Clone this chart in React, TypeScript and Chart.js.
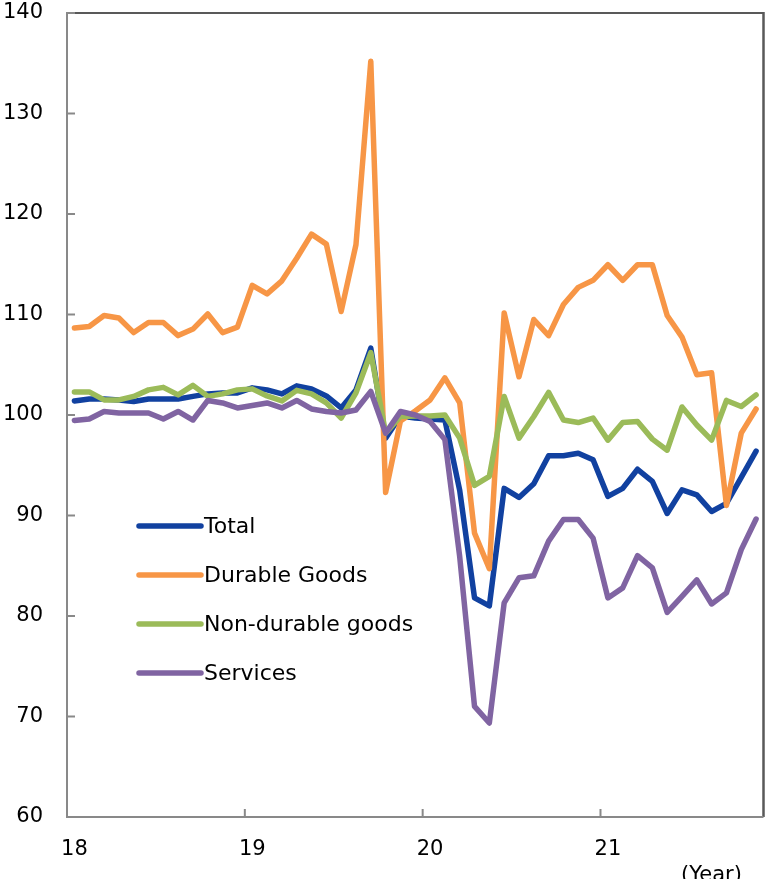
import { useEffect, useRef } from 'react';
import { Chart, registerables } from 'chart.js';

Chart.register(...registerables);

const months = [
  '2018/01', '2018/02', '2018/03', '2018/04', '2018/05', '2018/06', '2018/07', '2018/08', '2018/09', '2018/10', '2018/11', '2018/12',
  '2019/01', '2019/02', '2019/03', '2019/04', '2019/05', '2019/06', '2019/07', '2019/08', '2019/09', '2019/10', '2019/11', '2019/12',
  '2020/01', '2020/02', '2020/03', '2020/04', '2020/05', '2020/06', '2020/07', '2020/08', '2020/09', '2020/10', '2020/11', '2020/12',
  '2021/01', '2021/02', '2021/03', '2021/04', '2021/05', '2021/06', '2021/07', '2021/08', '2021/09', '2021/10', '2021/11',
];

const seriesNames = ['Total', 'Durable Goods', 'Non-durable goods', 'Services'];
const seriesColors = ['#1141A0', '#F79646', '#9BBB59', '#8064A2'];

const total = [
  101.4, 101.6, 101.6, 101.5, 101.35, 101.6, 101.6, 101.6, 101.85, 102.1,
  102.2, 102.2, 102.7, 102.5, 102.1, 102.9, 102.6, 101.9, 100.7, 102.5,
  106.65, 97.7, 99.9, 99.7, 99.6, 99.5, 92.5, 81.8, 81.0, 92.7,
  91.8, 93.15, 95.95, 95.95, 96.2, 95.55, 91.9, 92.7, 94.6, 93.4,
  90.2, 92.55, 92.05, 90.4, 91.2, 93.8, 96.4,
];

const durableGoods = [
  108.66, 108.8, 109.9, 109.65, 108.2, 109.2, 109.2, 107.9, 108.55, 110.05,
  108.2, 108.75, 112.9, 112.05, 113.35, 115.6, 118.0, 117.0, 110.3, 116.95,
  135.2, 92.3, 99.4, 100.4, 101.5, 103.7, 101.2, 88.25, 84.7, 110.15,
  103.8, 109.5, 107.9, 111.0, 112.7, 113.4, 114.95, 113.4, 114.95, 114.95,
  109.9, 107.75, 104.0, 104.2, 91.0, 98.2, 100.6,
];

const nonDurableGoods = [
  102.3, 102.3, 101.5, 101.5, 101.85, 102.5, 102.75, 102.0, 102.95, 101.85,
  102.1, 102.5, 102.6, 101.9, 101.4, 102.45, 102.1, 101.2, 99.7, 102.2,
  106.2, 98.2, 99.85, 99.9, 99.9, 100.0, 97.7, 93.0, 93.9, 101.85,
  97.7, 99.85, 102.25, 99.5, 99.25, 99.7, 97.5, 99.25, 99.35, 97.6,
  96.5, 100.8, 99.0, 97.5, 101.45, 100.85, 102.0,
];

const services = [
  99.45, 99.6, 100.35, 100.2, 100.2, 100.2, 99.6, 100.35, 99.5, 101.45,
  101.2, 100.7, 100.95, 101.2, 100.7, 101.45, 100.6, 100.35, 100.2, 100.5,
  102.35, 98.2, 100.35, 100.0, 99.35, 97.55, 85.9, 71.0, 69.35, 81.3,
  83.8, 84.0, 87.45, 89.6, 89.6, 87.75, 81.8, 82.8, 86.0, 84.8,
  80.35, 81.95, 83.6, 81.2, 82.3, 86.6, 89.65,
];

const seriesValues = [total, durableGoods, nonDurableGoods, services];
const yMin = 60;
const yMax = 140;
const yStep = 10;
const xUnitLabel = '(Year)';

const FONT = '"DejaVu Sans", Verdana, sans-serif';

const zeroPadding = (s: any) => {
  s.paddingTop = 0;
  s.paddingBottom = 0;
  s.paddingLeft = 0;
  s.paddingRight = 0;
};

const framePlugin = {
  id: 'frame',
  beforeDatasetsDraw(chart: any) {
    const { ctx, chartArea: a, scales } = chart;
    const ln = (x1: number, y1: number, x2: number, y2: number) => {
      ctx.beginPath();
      ctx.moveTo(x1, y1);
      ctx.lineTo(x2, y2);
      ctx.stroke();
    };
    ctx.save();
    ctx.lineCap = 'butt';
    // top & right border (dark)
    ctx.strokeStyle = '#595959';
    ctx.lineWidth = 2;
    ln(a.left, a.top, a.right, a.top);
    ctx.lineWidth = 2.5;
    ln(a.right, a.top - 1, a.right, a.bottom);
    // left & bottom axes (gray)
    ctx.strokeStyle = '#898989';
    ctx.lineWidth = 2;
    ln(a.left, a.top - 1, a.left, a.bottom + 1);
    ln(a.left - 1, a.bottom, a.right, a.bottom);
    // y tick marks (inside)
    const ys = scales.y;
    ys.ticks.forEach((t: any) => {
      const py = ys.getPixelForValue(t.value);
      ln(a.left, py, a.left + 8, py);
    });
    // x tick marks between years (inside)
    const xs = scales.x;
    months.forEach((m, i) => {
      if (i > 0 && m.endsWith('/01')) {
        const px = (xs.getPixelForValue(i - 1) + xs.getPixelForValue(i)) / 2;
        ln(px, a.bottom, px, a.bottom - 8);
      }
    });
    ctx.restore();
  },
  afterDatasetsDraw(chart: any) {
    const { ctx, chartArea: a } = chart;
    ctx.save();
    const x0 = a.left + 72;
    const lineLen = 62;
    chart.data.datasets.forEach((ds: any, i: number) => {
      const y = a.top + 513 + i * 49;
      ctx.strokeStyle = ds.borderColor;
      ctx.lineWidth = 5.5;
      ctx.lineCap = 'round';
      ctx.beginPath();
      ctx.moveTo(x0, y);
      ctx.lineTo(x0 + lineLen, y);
      ctx.stroke();
      ctx.fillStyle = '#000';
      ctx.font = `22px ${FONT}`;
      ctx.textAlign = 'left';
      ctx.textBaseline = 'middle';
      ctx.fillText(ds.label, x0 + lineLen + 3, y + 1);
    });
    ctx.font = `21px ${FONT}`;
    ctx.textAlign = 'center';
    ctx.textBaseline = 'alphabetic';
    ctx.fillStyle = '#000';
    ctx.fillText(xUnitLabel, a.right - 52, chart.height + 2);
    ctx.restore();
  },
};

export default function App() {
  const ref = useRef<HTMLCanvasElement | null>(null);
  useEffect(() => {
    if (!ref.current) return;
    const chart = new Chart(ref.current, {
      type: 'line',
      data: {
        labels: months,
        datasets: seriesNames.map((name, i) => ({
          label: name,
          data: seriesValues[i],
          borderColor: seriesColors[i],
          backgroundColor: seriesColors[i],
          borderWidth: 5.5,
          pointRadius: 0,
          pointHoverRadius: 0,
          tension: 0,
          fill: false,
          borderJoinStyle: 'round',
          borderCapStyle: 'round',
          order: seriesNames.length - i,
        })),
      },
      options: {
        responsive: false,
        animation: false,
        devicePixelRatio: 1,
        layout: { padding: { top: 13, right: 1.5, left: 0, bottom: 0 } },
        plugins: {
          legend: { display: false },
          tooltip: { enabled: false },
        },
        scales: {
          x: {
            type: 'category',
            offset: true,
            grid: { display: false, drawTicks: false },
            border: { display: false },
            ticks: {
              autoSkip: false,
              maxRotation: 0,
              minRotation: 0,
              padding: 20,
              color: '#000',
              font: { family: FONT, size: 21 },
              callback: (_v: any, i: number) => (months[i].endsWith('/01') ? months[i].slice(2, 4) : ''),
            },
            afterFit: (s: any) => {
              s.height = 62;
              zeroPadding(s);
            },
          },
          y: {
            min: yMin,
            max: yMax,
            grid: { display: false, drawTicks: false },
            border: { display: false },
            ticks: {
              stepSize: yStep,
              padding: 24,
              color: '#000',
              font: { family: FONT, size: 21 },
            },
            afterFit: (s: any) => {
              s.width = 67;
              zeroPadding(s);
            },
          },
        },
      },
      plugins: [framePlugin],
    });
    return () => chart.destroy();
  }, []);
  return (
    <div style={{ position: 'absolute', left: 0, top: 0, width: 765, height: 879, background: '#fff' }}>
      <canvas ref={ref} width={765} height={879} style={{ display: 'block', width: 765, height: 879 }} />
    </div>
  );
}
